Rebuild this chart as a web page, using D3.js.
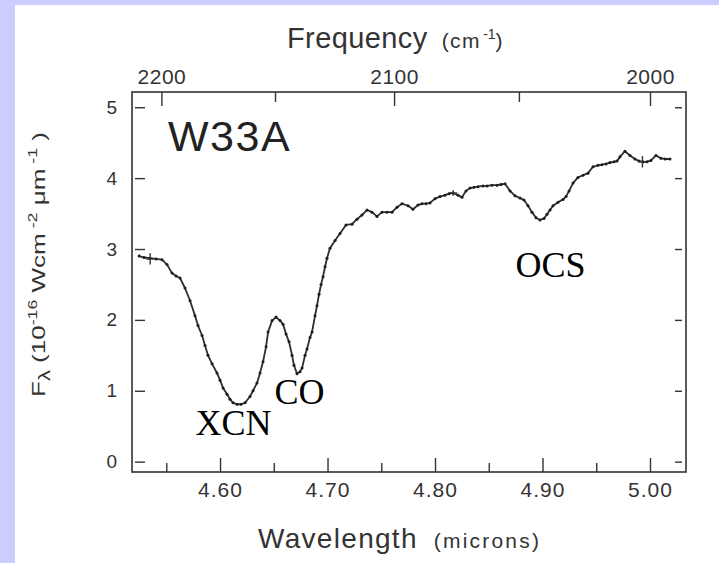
<!DOCTYPE html>
<html>
<head>
<meta charset="utf-8">
<script src="https://cdn.jsdelivr.net/npm/d3@7"></script>
<style>
  html, body { margin: 0; padding: 0; background: #ccccff; }
  svg { display: block; }
  .axis text { font-family: "Liberation Sans", Arial, sans-serif; fill: #333; }
  .axis line { stroke: #333; stroke-width: 1.4; }
  .axis path.domain { display: none; }
</style>
</head>
<body>
<svg id="chart" width="719" height="563"></svg>
<script>
// W33A spectrum: wavelength (microns) and flux (1e-16 W cm^-2 um^-1)
const wavelength = [
  4.5247, 4.5293, 4.5349, 4.5405, 4.5460, 4.5507, 4.5553, 4.5591, 4.5628, 4.5674,
  4.5721, 4.5767, 4.5795, 4.5833, 4.5860, 4.5888, 4.5926, 4.5972, 4.6000, 4.6028,
  4.6065, 4.6093, 4.6121, 4.6158, 4.6195, 4.6233, 4.6279, 4.6307, 4.6344, 4.6372,
  4.6400, 4.6428, 4.6447, 4.6484, 4.6521, 4.6558, 4.6586, 4.6614, 4.6642, 4.6670,
  4.6688, 4.6716, 4.6744, 4.6763, 4.6791, 4.6809, 4.6837, 4.6856, 4.6884, 4.6902,
  4.6921, 4.6940, 4.6958, 4.6977, 4.6995, 4.7023, 4.7070, 4.7116, 4.7172, 4.7228,
  4.7274, 4.7321, 4.7367, 4.7414, 4.7460, 4.7507, 4.7553, 4.7600, 4.7647, 4.7693,
  4.7749, 4.7795, 4.7842, 4.7879, 4.7916, 4.7953, 4.8000, 4.8047, 4.8093, 4.8130,
  4.8167, 4.8214, 4.8251, 4.8288, 4.8326, 4.8363, 4.8400, 4.8447, 4.8484, 4.8530,
  4.8577, 4.8614, 4.8651, 4.8698, 4.8744, 4.8791, 4.8828, 4.8865, 4.8902, 4.8940,
  4.8977, 4.9014, 4.9042, 4.9070, 4.9098, 4.9144, 4.9191, 4.9219, 4.9247, 4.9284,
  4.9330, 4.9377, 4.9423, 4.9470, 4.9516, 4.9553, 4.9591, 4.9628, 4.9665, 4.9693,
  4.9721, 4.9767, 4.9814, 4.9860, 4.9898, 4.9935, 4.9972, 5.0009, 5.0056, 5.0102,
  5.0140, 5.0186
];
const flux = [
  2.90, 2.88, 2.87, 2.86, 2.85, 2.78, 2.66, 2.62, 2.59, 2.45,
  2.27, 2.06, 1.92, 1.78, 1.64, 1.50, 1.38, 1.25, 1.15, 1.04,
  0.95, 0.88, 0.83, 0.81, 0.81, 0.83, 0.92, 1.00, 1.11, 1.25,
  1.41, 1.62, 1.83, 1.99, 2.04, 1.99, 1.94, 1.80, 1.69, 1.50,
  1.36, 1.24, 1.27, 1.32, 1.50, 1.59, 1.75, 1.83, 2.06, 2.20,
  2.36, 2.50, 2.61, 2.75, 2.87, 3.01, 3.12, 3.22, 3.34, 3.35,
  3.42, 3.48, 3.55, 3.52, 3.46, 3.52, 3.52, 3.52, 3.59, 3.64,
  3.61, 3.56, 3.62, 3.64, 3.64, 3.65, 3.71, 3.74, 3.76, 3.78,
  3.79, 3.76, 3.73, 3.82, 3.86, 3.87, 3.88, 3.89, 3.89, 3.90,
  3.90, 3.91, 3.92, 3.82, 3.75, 3.72, 3.69, 3.61, 3.52, 3.44,
  3.41, 3.43, 3.49, 3.55, 3.61, 3.66, 3.70, 3.74, 3.82, 3.93,
  4.01, 4.04, 4.07, 4.16, 4.18, 4.19, 4.20, 4.22, 4.23, 4.24,
  4.30, 4.38, 4.32, 4.27, 4.24, 4.23, 4.23, 4.25, 4.32, 4.28,
  4.27, 4.27
];

// Representative error bars
const errWavelength = [4.535, 4.817, 4.993];
const errFlux = [2.86, 3.79, 4.23];
const errSize = [0.08, 0.04, 0.08];

// Axis ticks
const wavelengthMajor = [4.60, 4.70, 4.80, 4.90, 5.00];
const wavelengthMinor = [4.55, 4.65, 4.75, 4.85, 4.95];
const frequencyMajor = [2200, 2100, 2000];
const frequencyMinor = [2150, 2050];
const fluxTicks = [0, 1, 2, 3, 4, 5];

// Feature labels
const featureNames = ["XCN", "CO", "OCS"];
const featureWavelength = [4.6126, 4.6740, 4.9075];
const featureFlux = [0.37, 0.81, 2.60];

const svg = d3.select("#chart");

// White sheet over the lavender page
svg.append("rect").attr("x", 15).attr("y", 5).attr("width", 704).attr("height", 558).attr("fill", "#fff");

const x = d3.scaleLinear().domain([4.5181, 5.0335]).range([132, 686]);
const y = d3.scaleLinear().domain([-0.146, 5.215]).range([472, 92]);

// Frame
svg.append("rect")
  .attr("x", x.range()[0]).attr("y", y.range()[1])
  .attr("width", x.range()[1] - x.range()[0])
  .attr("height", y.range()[0] - y.range()[1])
  .attr("fill", "none").attr("stroke", "#333").attr("stroke-width", 1.6);

const fmt2 = d3.format(".2f");

// Bottom wavelength axis
svg.append("g").attr("class", "axis")
  .attr("transform", `translate(0,${y.range()[0]})`)
  .call(d3.axisBottom(x).tickValues(wavelengthMajor).tickSize(-14).tickPadding(10.5).tickFormat(fmt2))
  .call(g => g.selectAll("text").attr("font-size", 21).attr("letter-spacing", 1));
svg.append("g").attr("class", "axis")
  .attr("transform", `translate(0,${y.range()[0]})`)
  .call(d3.axisBottom(x).tickValues(wavelengthMinor).tickSize(-9).tickFormat(""));

// Top frequency axis (cm^-1 = 1e4 / microns)
svg.append("g").attr("class", "axis")
  .attr("transform", `translate(0,${y.range()[1]})`)
  .call(d3.axisTop(x).tickValues(frequencyMajor.map(f => 1e4 / f)).tickSize(-14).tickPadding(8)
    .tickFormat(w => d3.format("d")(Math.round(1e4 / w))))
  .call(g => g.selectAll("text").attr("font-size", 21).attr("letter-spacing", 0.5));
svg.append("g").attr("class", "axis")
  .attr("transform", `translate(0,${y.range()[1]})`)
  .call(d3.axisTop(x).tickValues(frequencyMinor.map(f => 1e4 / f)).tickSize(-10).tickFormat(""));

// Left flux axis
svg.append("g").attr("class", "axis")
  .attr("transform", `translate(${x.range()[0]},0)`)
  .call(d3.axisLeft(y).tickValues(fluxTicks).tickSize(-13).tickPadding(15).tickFormat(d3.format("d")))
  .call(g => g.selectAll("text").attr("font-size", 19))
  .call(g => g.selectAll(".tick line").attr("x1", 3));

// Right flux axis: short inner marks
svg.append("g").attr("class", "axis")
  .attr("transform", `translate(${x.range()[1]},0)`)
  .call(d3.axisRight(y).tickValues(fluxTicks).tickSize(-11).tickFormat(""))
  .call(g => g.selectAll(".tick line").attr("x1", -4));

// Axis titles
const sans = "'Liberation Sans', Arial, sans-serif";
const topTitle = svg.append("text").attr("x", 287).attr("y", 47.5)
  .attr("font-family", sans).attr("fill", "#333");
topTitle.append("tspan").attr("font-size", 29).attr("letter-spacing", 0.4).text("Frequency");
topTitle.append("tspan").attr("font-size", 21).attr("dx", 14).attr("letter-spacing", 1.5).text("(cm");
topTitle.append("tspan").attr("font-size", 14).attr("dy", -9).attr("dx", 2).text("-1");
topTitle.append("tspan").attr("font-size", 21).attr("dy", 9).text(")");

const bottomTitle = svg.append("text").attr("x", 258).attr("y", 548)
  .attr("font-family", sans).attr("fill", "#333");
bottomTitle.append("tspan").attr("font-size", 28).attr("letter-spacing", 1.3).text("Wavelength");
bottomTitle.append("tspan").attr("font-size", 21).attr("dx", 16).attr("letter-spacing", 2.2).text("(microns)");

const yTitle = svg.append("text")
  .attr("transform", "translate(45,264.5) rotate(-90)")
  .attr("text-anchor", "middle")
  .attr("font-family", sans).attr("fill", "#333")
  .attr("textLength", 265).attr("lengthAdjust", "spacingAndGlyphs");
yTitle.append("tspan").attr("font-size", 19).text("F");
yTitle.append("tspan").attr("font-size", 16).attr("dy", 5).text("λ");
yTitle.append("tspan").attr("font-size", 19).attr("dy", -5).text(" (10");
yTitle.append("tspan").attr("font-size", 13).attr("dy", -8).text("-16");
yTitle.append("tspan").attr("font-size", 19).attr("dy", 8).text(" Wcm");
yTitle.append("tspan").attr("font-size", 13).attr("dy", -8).text(" -2");
yTitle.append("tspan").attr("font-size", 19).attr("dy", 8).text(" μm");
yTitle.append("tspan").attr("font-size", 13).attr("dy", -8).text(" -1");
yTitle.append("tspan").attr("font-size", 19).attr("dy", 8).text(" )");

// Source name
svg.append("text").attr("x", 168).attr("y", 151)
  .attr("font-family", sans).attr("font-size", 43).attr("letter-spacing", 1.5)
  .attr("fill", "#222").text("W33A");

// Spectrum line with sample dots
const points = wavelength.map((w, i) => [w, flux[i]]);
svg.append("path")
  .datum(points)
  .attr("fill", "none").attr("stroke", "#2e2e2e").attr("stroke-width", 1.8)
  .attr("stroke-linejoin", "round")
  .attr("d", d3.line().x(d => x(d[0])).y(d => y(d[1])));
svg.append("g").selectAll("circle").data(points).join("circle")
  .attr("cx", d => x(d[0])).attr("cy", d => y(d[1])).attr("r", 1.5).attr("fill", "#1e1e1e");

// Error bar crosses
const errG = svg.append("g").attr("stroke", "#333").attr("stroke-width", 1.4);
errWavelength.forEach((w, i) => {
  const cx = x(w);
  errG.append("line").attr("x1", cx).attr("x2", cx)
    .attr("y1", y(errFlux[i] - errSize[i])).attr("y2", y(errFlux[i] + errSize[i]));
  errG.append("line").attr("x1", cx - 4).attr("x2", cx + 4)
    .attr("y1", y(errFlux[i])).attr("y2", y(errFlux[i]));
});

// Absorption feature labels
svg.append("g").selectAll("text").data(featureNames).join("text")
  .attr("x", (d, i) => x(featureWavelength[i]))
  .attr("y", (d, i) => y(featureFlux[i]))
  .attr("text-anchor", "middle")
  .attr("font-family", "'Liberation Serif', 'Times New Roman', serif")
  .attr("font-size", 36).attr("fill", "#000")
  .text(d => d);
</script>
</body>
</html>
